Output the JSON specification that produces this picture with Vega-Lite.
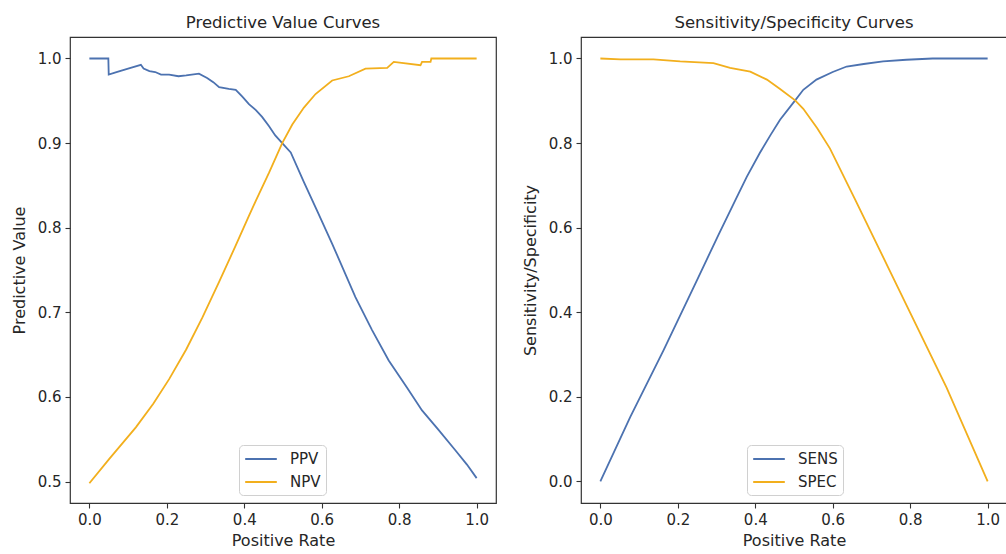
{
  "$schema": "https://vega.github.io/schema/vega-lite/v6.json",
  "background": "white",
  "padding": {"left": 10, "top": 13, "right": 0, "bottom": 0},
  "bounds": "flush",
  "spacing": 85,
  "config": {
    "font": "DejaVu Sans",
    "view": {"stroke": "#333333", "strokeWidth": 1.2},
    "axis": {"grid": false, "domain": false, "tickColor": "#333333", "tickSize": 5, "tickWidth": 1.1, "labelFontSize": 15, "titleFontSize": 16, "labelColor": "#262626", "titleColor": "#262626", "titleFontWeight": "normal", "labelPadding": 4, "titlePadding": 10, "labelFont": "DejaVu Sans", "titleFont": "DejaVu Sans"},
    "axisX": {"titlePadding": 5},
    "title": {"fontSize": 16.5, "fontWeight": "normal", "color": "#262626", "offset": 6, "font": "DejaVu Sans"},
    "legend": {"symbolType": "M-2,0H2", "symbolSize": 250, "symbolOffset": 8, "symbolStrokeWidth": 2, "labelFontSize": 15, "labelColor": "#262626", "labelFont": "DejaVu Sans", "fillColor": "white", "strokeColor": "#d0d0d0", "cornerRadius": 4, "padding": 5, "rowPadding": 6, "labelOffset": 20}
  },
  "resolve": {"scale": {"color": "independent"}, "legend": {"color": "independent"}},
  "datasets": {
    "pv": [
      {"series": "PPV", "rate": 0.0, "value": 1.0},
      {"series": "PPV", "rate": 0.049, "value": 1.0},
      {"series": "PPV", "rate": 0.05, "value": 0.981},
      {"series": "PPV", "rate": 0.07, "value": 0.984},
      {"series": "PPV", "rate": 0.1, "value": 0.988},
      {"series": "PPV", "rate": 0.133, "value": 0.9925},
      {"series": "PPV", "rate": 0.14, "value": 0.988},
      {"series": "PPV", "rate": 0.155, "value": 0.985},
      {"series": "PPV", "rate": 0.17, "value": 0.984},
      {"series": "PPV", "rate": 0.185, "value": 0.981},
      {"series": "PPV", "rate": 0.206, "value": 0.981},
      {"series": "PPV", "rate": 0.23, "value": 0.979},
      {"series": "PPV", "rate": 0.25, "value": 0.98},
      {"series": "PPV", "rate": 0.283, "value": 0.982},
      {"series": "PPV", "rate": 0.304, "value": 0.977},
      {"series": "PPV", "rate": 0.32, "value": 0.972},
      {"series": "PPV", "rate": 0.335, "value": 0.966},
      {"series": "PPV", "rate": 0.36, "value": 0.964},
      {"series": "PPV", "rate": 0.378, "value": 0.963},
      {"series": "PPV", "rate": 0.395, "value": 0.955},
      {"series": "PPV", "rate": 0.412, "value": 0.946},
      {"series": "PPV", "rate": 0.43, "value": 0.939},
      {"series": "PPV", "rate": 0.446, "value": 0.931},
      {"series": "PPV", "rate": 0.464, "value": 0.92},
      {"series": "PPV", "rate": 0.48, "value": 0.909},
      {"series": "PPV", "rate": 0.498, "value": 0.9},
      {"series": "PPV", "rate": 0.52, "value": 0.889},
      {"series": "PPV", "rate": 0.554, "value": 0.854},
      {"series": "PPV", "rate": 0.59, "value": 0.818},
      {"series": "PPV", "rate": 0.627, "value": 0.781},
      {"series": "PPV", "rate": 0.687, "value": 0.718},
      {"series": "PPV", "rate": 0.73, "value": 0.679},
      {"series": "PPV", "rate": 0.773, "value": 0.643},
      {"series": "PPV", "rate": 0.82, "value": 0.611},
      {"series": "PPV", "rate": 0.859, "value": 0.584},
      {"series": "PPV", "rate": 0.9, "value": 0.562},
      {"series": "PPV", "rate": 0.945, "value": 0.537},
      {"series": "PPV", "rate": 0.975, "value": 0.52},
      {"series": "PPV", "rate": 1.0, "value": 0.504},
      {"series": "NPV", "rate": 0.0, "value": 0.498},
      {"series": "NPV", "rate": 0.052, "value": 0.527},
      {"series": "NPV", "rate": 0.12, "value": 0.564},
      {"series": "NPV", "rate": 0.165, "value": 0.592},
      {"series": "NPV", "rate": 0.206, "value": 0.621},
      {"series": "NPV", "rate": 0.25, "value": 0.656},
      {"series": "NPV", "rate": 0.292, "value": 0.694},
      {"series": "NPV", "rate": 0.335, "value": 0.736},
      {"series": "NPV", "rate": 0.378, "value": 0.779},
      {"series": "NPV", "rate": 0.412, "value": 0.814},
      {"series": "NPV", "rate": 0.43, "value": 0.832},
      {"series": "NPV", "rate": 0.464, "value": 0.865},
      {"series": "NPV", "rate": 0.498, "value": 0.9},
      {"series": "NPV", "rate": 0.524, "value": 0.922},
      {"series": "NPV", "rate": 0.554, "value": 0.942},
      {"series": "NPV", "rate": 0.584, "value": 0.958},
      {"series": "NPV", "rate": 0.627, "value": 0.974},
      {"series": "NPV", "rate": 0.67, "value": 0.979},
      {"series": "NPV", "rate": 0.713, "value": 0.988},
      {"series": "NPV", "rate": 0.769, "value": 0.989},
      {"series": "NPV", "rate": 0.786, "value": 0.996},
      {"series": "NPV", "rate": 0.855, "value": 0.992},
      {"series": "NPV", "rate": 0.859, "value": 0.996},
      {"series": "NPV", "rate": 0.881, "value": 0.996},
      {"series": "NPV", "rate": 0.883, "value": 1.0},
      {"series": "NPV", "rate": 1.0, "value": 1.0}
    ],
    "ss": [
      {"series": "SENS", "rate": 0.0, "value": 0.0},
      {"series": "SENS", "rate": 0.077, "value": 0.152},
      {"series": "SENS", "rate": 0.163, "value": 0.31},
      {"series": "SENS", "rate": 0.249, "value": 0.475},
      {"series": "SENS", "rate": 0.305, "value": 0.583},
      {"series": "SENS", "rate": 0.348, "value": 0.664},
      {"series": "SENS", "rate": 0.378, "value": 0.72},
      {"series": "SENS", "rate": 0.412, "value": 0.777},
      {"series": "SENS", "rate": 0.44, "value": 0.82},
      {"series": "SENS", "rate": 0.464, "value": 0.855},
      {"series": "SENS", "rate": 0.503, "value": 0.901},
      {"series": "SENS", "rate": 0.524, "value": 0.926},
      {"series": "SENS", "rate": 0.558, "value": 0.95},
      {"series": "SENS", "rate": 0.6, "value": 0.968},
      {"series": "SENS", "rate": 0.636, "value": 0.981},
      {"series": "SENS", "rate": 0.68, "value": 0.987},
      {"series": "SENS", "rate": 0.73, "value": 0.993},
      {"series": "SENS", "rate": 0.79, "value": 0.997},
      {"series": "SENS", "rate": 0.858, "value": 1.0},
      {"series": "SENS", "rate": 1.0, "value": 1.0},
      {"series": "SPEC", "rate": 0.0, "value": 1.0},
      {"series": "SPEC", "rate": 0.052, "value": 0.998},
      {"series": "SPEC", "rate": 0.137, "value": 0.998},
      {"series": "SPEC", "rate": 0.206, "value": 0.993},
      {"series": "SPEC", "rate": 0.292, "value": 0.989},
      {"series": "SPEC", "rate": 0.335, "value": 0.978},
      {"series": "SPEC", "rate": 0.387, "value": 0.969},
      {"series": "SPEC", "rate": 0.43, "value": 0.95},
      {"series": "SPEC", "rate": 0.464, "value": 0.928},
      {"series": "SPEC", "rate": 0.503, "value": 0.901},
      {"series": "SPEC", "rate": 0.524, "value": 0.881},
      {"series": "SPEC", "rate": 0.56, "value": 0.835},
      {"series": "SPEC", "rate": 0.593, "value": 0.787},
      {"series": "SPEC", "rate": 0.657, "value": 0.668},
      {"series": "SPEC", "rate": 0.765, "value": 0.465},
      {"series": "SPEC", "rate": 0.894, "value": 0.222},
      {"series": "SPEC", "rate": 1.0, "value": 0.0}
    ]
  },
  "hconcat": [
    {
      "width": 426,
      "height": 466,
      "title": "Predictive Value Curves",
      "data": {"name": "pv"},
      "mark": {"type": "line", "strokeWidth": 1.8},
      "encoding": {
        "x": {"field": "rate", "type": "quantitative", "scale": {"domain": [-0.05, 1.05], "nice": false, "zero": false}, "axis": {"values": [0, 0.2, 0.4, 0.6, 0.8, 1.0], "format": ".1f", "title": "Positive Rate"}},
        "y": {"field": "value", "type": "quantitative", "scale": {"domain": [0.4746, 1.0254], "nice": false, "zero": false}, "axis": {"values": [0.5, 0.6, 0.7, 0.8, 0.9, 1.0], "format": ".1f", "title": "Predictive Value"}},
        "color": {"field": "series", "type": "nominal", "scale": {"domain": ["PPV", "NPV"], "range": ["#4C72B0", "#F2AF1D"]}, "legend": {"title": null, "orient": "none", "legendX": 169, "legendY": 408}}
      }
    },
    {
      "width": 426,
      "height": 466,
      "title": "Sensitivity/Specificity Curves",
      "data": {"name": "ss"},
      "mark": {"type": "line", "strokeWidth": 1.8},
      "encoding": {
        "x": {"field": "rate", "type": "quantitative", "scale": {"domain": [-0.05, 1.05], "nice": false, "zero": false}, "axis": {"values": [0, 0.2, 0.4, 0.6, 0.8, 1.0], "format": ".1f", "title": "Positive Rate"}},
        "y": {"field": "value", "type": "quantitative", "scale": {"domain": [-0.0509, 1.0508], "nice": false, "zero": false}, "axis": {"values": [0, 0.2, 0.4, 0.6, 0.8, 1.0], "format": ".1f", "title": "Sensitivity/Specificity"}},
        "color": {"field": "series", "type": "nominal", "scale": {"domain": ["SENS", "SPEC"], "range": ["#4C72B0", "#F2AF1D"]}, "legend": {"title": null, "orient": "none", "legendX": 166, "legendY": 408}}
      }
    }
  ]
}
